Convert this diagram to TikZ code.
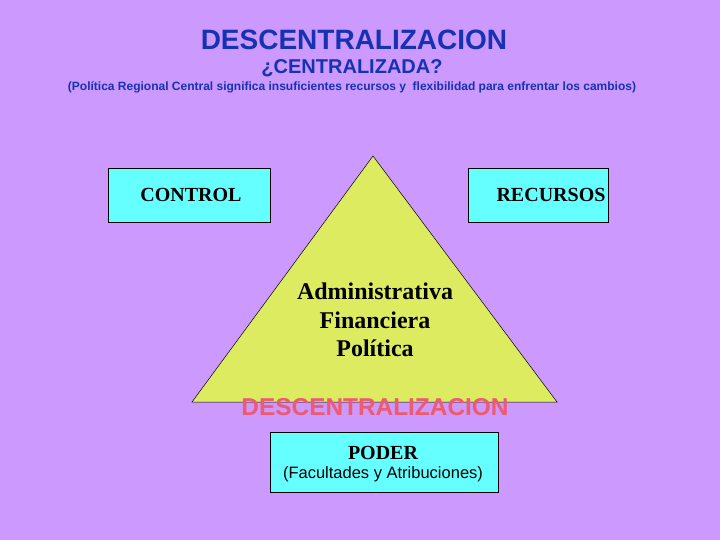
\documentclass[tikz,border=0pt]{standalone}
\usepackage{fontspec}
\setmainfont{Liberation Serif}
\setsansfont{Liberation Sans}
\usepackage{xcolor}
\usepackage{tikz}
\usetikzlibrary{positioning,calc}

\definecolor{fondo}{RGB}{204,153,255}
\definecolor{celeste}{RGB}{102,255,255}
\definecolor{amarillo}{RGB}{221,235,96}
\definecolor{azul}{RGB}{22,50,176}
\definecolor{rojo}{RGB}{238,90,112}

\begin{document}
\begin{tikzpicture}[
    x=1pt, y=-1pt,
    caja/.style={rectangle, draw=black, fill=celeste, line width=0.6pt, inner sep=0pt, align=center},
    cajatxt/.style={font=\fontsize{20}{22}\selectfont\bfseries, inner sep=0pt},
    titulo/.style={font=\sffamily\bfseries, text=azul, inner sep=0pt}
]
    % fondo
    \fill [fondo] (0,0) rectangle (720,540);
    \useasboundingbox (0,0) rectangle (720,540);

    % titulos
    \node [titulo, font=\sffamily\bfseries\fontsize{28}{30}\selectfont] (t1) at (354,40) {DESCENTRALIZACION};
    \node [titulo, font=\sffamily\bfseries\fontsize{20}{22}\selectfont] (t2) at (352,68) {¿CENTRALIZADA?};
    \node [titulo, font=\sffamily\bfseries\fontsize{12}{14}\selectfont] (t3) at (352,87) {(Política Regional Central significa insuficientes recursos y\ \ flexibilidad para enfrentar los cambios)};

    % triangulo
    \coordinate (apex) at (373,156);
    \coordinate (izq) at (192,402);
    \coordinate (der) at (557,402);
    \filldraw [fill=amarillo, draw=black, line width=0.5pt] (apex) -- (izq) -- (der) -- cycle;

    % cajas
    \node [caja, minimum width=162pt, minimum height=54pt] (control) at (189,195) {};
    \node [cajatxt] at ($(control.center)+(2,0)$) {CONTROL};
    \node [caja, minimum width=140pt, minimum height=54pt] (recursos) at (538,195) {};
    \node [cajatxt] at ($(recursos.center)+(13,0)$) {RECURSOS};

    \node [font=\fontsize{24}{28.5}\selectfont\bfseries, align=center, inner sep=0pt] (tipos) at (375,320) {Administrativa\\Financiera\\Política};

    \node [font=\sffamily\bfseries\fontsize{24.4}{26}\selectfont, text=rojo, inner sep=0pt] (desc) at (375,407) {DESCENTRALIZACION};

    \node [caja, minimum width=228pt, minimum height=60pt] (poder) at (384,462) {};
    \node [cajatxt] (p1) at (383,453) {PODER};
    \node [font=\sffamily\fontsize{16.5}{18}\selectfont, inner sep=0pt] (p2) at (383,474) {(Facultades y Atribuciones)};
\end{tikzpicture}
\end{document}
